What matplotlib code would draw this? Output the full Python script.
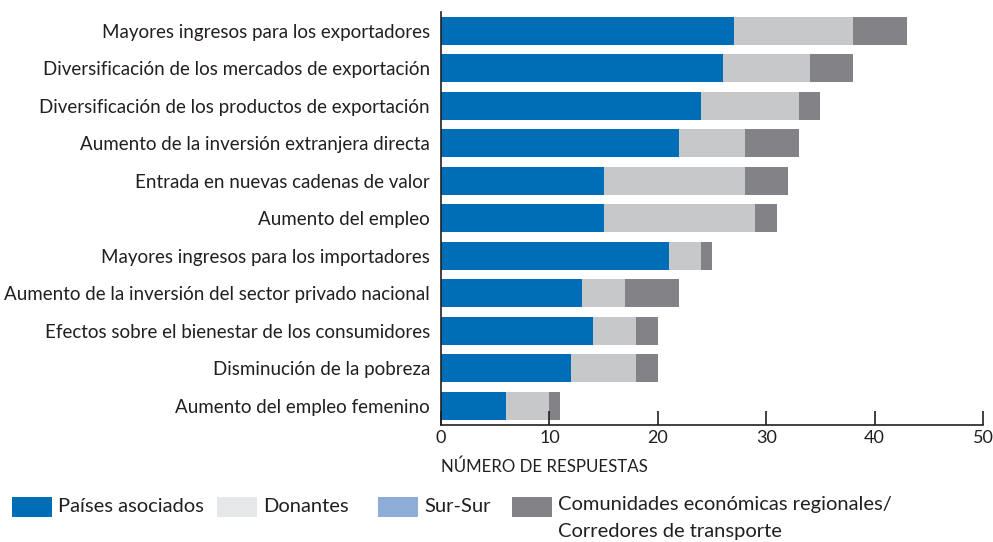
import matplotlib.pyplot as plt
from matplotlib.patches import Rectangle

plt.rcParams['font.family'] = ['Lato', 'DejaVu Sans']

categorias = [
    "Mayores ingresos para los exportadores",
    "Diversificación de los mercados de exportación",
    "Diversificación de los productos de exportación",
    "Aumento de la inversión extranjera directa",
    "Entrada en nuevas cadenas de valor",
    "Aumento del empleo",
    "Mayores ingresos para los importadores",
    "Aumento de la inversión del sector privado nacional",
    "Efectos sobre el bienestar de los consumidores",
    "Disminución de la pobreza",
    "Aumento del empleo femenino",
]
paises_asociados = [27, 26, 24, 22, 15, 15, 21, 13, 14, 12, 6]
donantes = [11, 8, 9, 6, 13, 14, 3, 4, 4, 6, 4]
sur_sur = [0, 0, 0, 0, 0, 0, 0, 0, 0, 0, 0]
comunidades = [5, 4, 2, 5, 4, 2, 1, 5, 2, 2, 1]

series = ["Países asociados", "Donantes", "Sur-Sur",
          "Comunidades económicas regionales/\nCorredores de transporte"]
colores = ["#006EB6", "#C7C8CA", "#8EACD8", "#838387"]
colores_leyenda = ["#006EB6", "#E6E7E8", "#8EACD8", "#838387"]
texto = "#231F20"

fig = plt.figure(figsize=(9.93, 5.42), dpi=100)
ax = fig.add_axes([441/993, 1 - 424.5/542, 542/993, (424.5 - 12)/542])

y = list(range(len(categorias)))
izq = [0] * len(categorias)
for vals, c in zip([paises_asociados, donantes, sur_sur, comunidades], colores):
    ax.barh(y, vals, left=izq, height=0.74, color=c, linewidth=0)
    izq = [a + b for a, b in zip(izq, vals)]

ax.set_xlim(0, 50)
ax.set_ylim(len(categorias) - 0.5, -0.5)
ax.set_yticks(y)
ax.set_yticklabels(categorias, fontsize=13.5, color=texto)
ax.tick_params(axis='y', length=0, pad=8)
ax.set_xticks(range(0, 51, 10))
ax.tick_params(axis='x', direction='in', length=10, width=1.2, color=texto,
               labelsize=13, labelcolor=texto, pad=4)
for s in ['top', 'right']:
    ax.spines[s].set_visible(False)
for s in ['left', 'bottom']:
    ax.spines[s].set_color(texto)
    ax.spines[s].set_linewidth(1.2)

fig.text(441/993, 1 - 467/542, "NÚMERO DE RESPUESTAS", fontsize=12.2,
         color=texto, ha='left', va='center')

# leyenda
x_parches = [12, 217, 378, 512]
for nombre, c, xp in zip(series, colores_leyenda, x_parches):
    fig.add_artist(Rectangle((xp/993, 1 - 517/542), 40/993, 20/542,
                             transform=fig.transFigure, color=c, lw=0))
    if '\n' in nombre:
        fig.text((xp + 46)/993, 1 - 496/542, nombre, fontsize=14.5, color=texto,
                 ha='left', va='top', linespacing=1.75)
    else:
        fig.text((xp + 46)/993, 1 - 507/542, nombre, fontsize=14.5, color=texto,
                 ha='left', va='center')

fig.savefig("out.png", dpi=100)
